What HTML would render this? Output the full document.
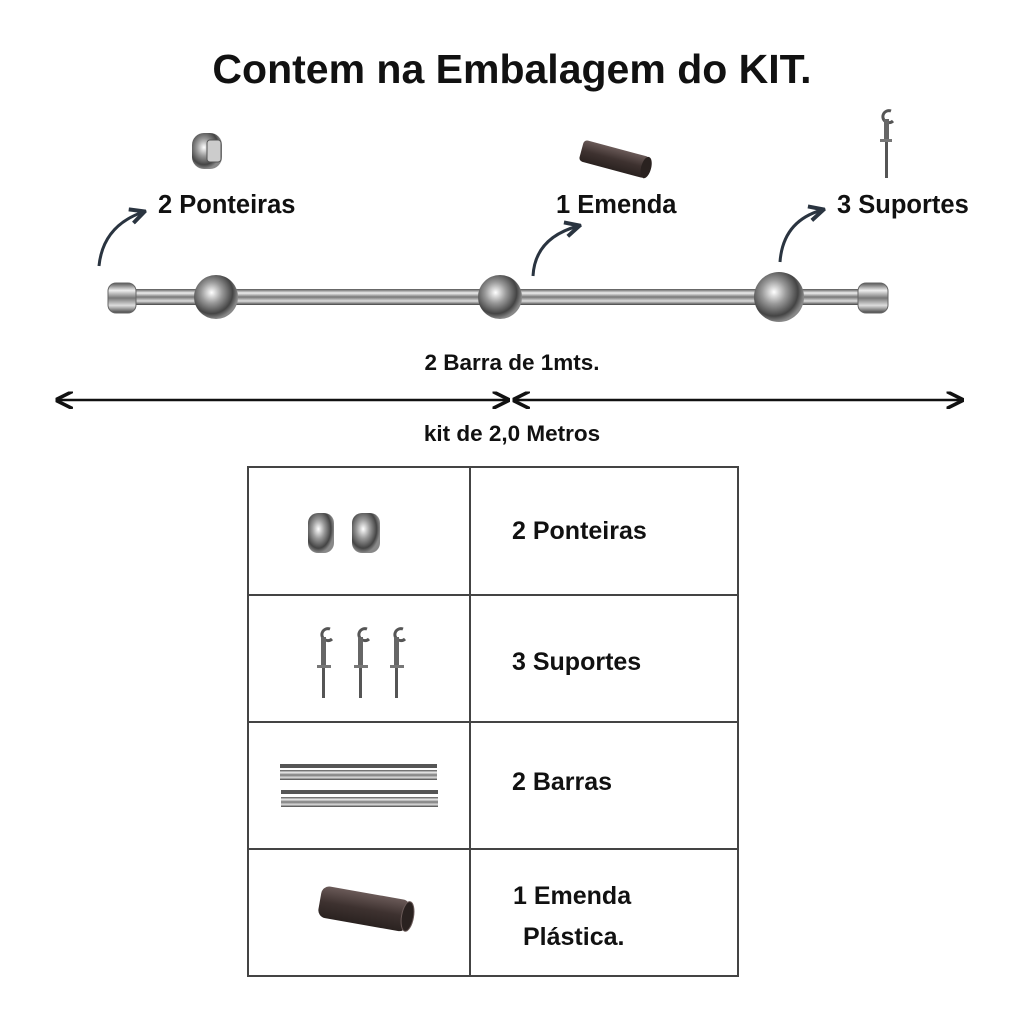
<!DOCTYPE html>
<html><head><meta charset="utf-8"><style>
html,body{margin:0;padding:0;background:#fff;width:1024px;height:1024px;overflow:hidden}
svg{display:block}
text{font-family:"Liberation Sans",Arial,sans-serif;font-weight:bold;fill:#111}
</style></head><body>
<svg width="1024" height="1024" viewBox="0 0 1024 1024">
<defs>
<linearGradient id="chr" x1="0" y1="0" x2="0" y2="1">
<stop offset="0" stop-color="#555"/><stop offset="0.25" stop-color="#eee"/><stop offset="0.5" stop-color="#777"/><stop offset="0.75" stop-color="#ddd"/><stop offset="1" stop-color="#444"/></linearGradient>
<radialGradient id="ball" cx="0.4" cy="0.4" r="0.6">
<stop offset="0" stop-color="#fff"/><stop offset="0.4" stop-color="#999"/><stop offset="0.8" stop-color="#444"/><stop offset="1" stop-color="#888"/></radialGradient>
<linearGradient id="plas" x1="0" y1="0" x2="0" y2="1"><stop offset="0" stop-color="#6a5a58"/><stop offset="0.5" stop-color="#3e3230"/><stop offset="1" stop-color="#2a2220"/></linearGradient>
<marker id="ah" viewBox="0 0 10 10" refX="9" refY="5" markerWidth="7" markerHeight="7" orient="auto-start-reverse"><path d="M0,0 L10,5 L0,10" fill="none" stroke="#111" stroke-width="2"/></marker>
<marker id="ah2" viewBox="0 0 10 10" refX="8" refY="5" markerWidth="6" markerHeight="6" orient="auto"><path d="M1,1 L9,5 L1,9" fill="none" stroke="#2a3440" stroke-width="2.2"/></marker>
</defs>

<text x="512" y="83" font-size="41" text-anchor="middle">Contem na Embalagem do KIT.</text>

<rect x="192" y="133" width="30" height="36" rx="12" fill="url(#ball)"/>
<rect x="207" y="140" width="14" height="22" rx="3" fill="#ccc" stroke="#555"/>
<g transform="rotate(15 614 160)"><rect x="580" y="148" width="68" height="22" rx="4" fill="url(#plas)"/><ellipse cx="647" cy="159" rx="5" ry="11" fill="#2a2220"/></g>
<g transform="translate(885,107)"><path d="M6,4 a6,6 0 1 0 2,10" fill="none" stroke="#555" stroke-width="3"/><rect x="-1" y="12" width="5" height="22" fill="#666"/><rect x="-5" y="32" width="12" height="3" fill="#777"/><rect x="0" y="35" width="3" height="36" fill="#555"/></g>

<text x="158" y="213" font-size="25.5">2 Ponteiras</text>
<text x="556" y="213" font-size="25.5">1 Emenda</text>
<text x="837" y="213" font-size="25.5">3 Suportes</text>

<path d="M99,266 Q103,226 143,212" fill="none" stroke="#2a3440" stroke-width="3" marker-end="url(#ah2)"/>
<path d="M533,276 Q535,238 578,226" fill="none" stroke="#2a3440" stroke-width="3" marker-end="url(#ah2)"/>
<path d="M780,262 Q783,221 822,210" fill="none" stroke="#2a3440" stroke-width="3" marker-end="url(#ah2)"/>

<rect x="120" y="289" width="755" height="16" fill="url(#chr)"/>
<rect x="108" y="283" width="28" height="30" rx="8" fill="url(#chr)" stroke="#666"/>
<rect x="858" y="283" width="30" height="30" rx="8" fill="url(#chr)" stroke="#666"/>
<circle cx="216" cy="297" r="22" fill="url(#ball)"/>
<circle cx="500" cy="297" r="22" fill="url(#ball)"/>
<circle cx="779" cy="297" r="25" fill="url(#ball)"/>

<text x="512" y="370" font-size="22.5" text-anchor="middle">2 Barra de 1mts.</text>
<line x1="57" y1="400" x2="508" y2="400" stroke="#111" stroke-width="2.5" marker-start="url(#ah)" marker-end="url(#ah)"/>
<line x1="514" y1="400" x2="962" y2="400" stroke="#111" stroke-width="2.5" marker-start="url(#ah)" marker-end="url(#ah)"/>
<text x="512" y="441" font-size="22.5" text-anchor="middle">kit de 2,0 Metros</text>

<g fill="none" stroke="#444" stroke-width="2">
<rect x="248" y="467" width="490" height="509"/>
<line x1="470" y1="467" x2="470" y2="976"/>
<line x1="248" y1="595" x2="738" y2="595"/>
<line x1="248" y1="722" x2="738" y2="722"/>
<line x1="248" y1="849" x2="738" y2="849"/>
</g>
<text x="512" y="539" font-size="25">2 Ponteiras</text>
<text x="512" y="670" font-size="25">3 Suportes</text>
<text x="512" y="790" font-size="25">2 Barras</text>
<text x="513" y="904" font-size="25">1 Emenda</text>
<text x="523" y="945" font-size="25">Plástica.</text>

<rect x="308" y="513" width="26" height="40" rx="10" fill="url(#ball)"/>
<rect x="352" y="513" width="28" height="40" rx="10" fill="url(#ball)"/>
<g transform="translate(320,625)"><path d="M10,4 a6,6 0 1 0 2,10" fill="none" stroke="#555" stroke-width="3"/><rect x="1" y="12" width="5" height="28" fill="#666"/><rect x="-3" y="40" width="14" height="3" fill="#777"/><rect x="2" y="43" width="3" height="30" fill="#555"/></g>
<g transform="translate(357,625)"><path d="M10,4 a6,6 0 1 0 2,10" fill="none" stroke="#555" stroke-width="3"/><rect x="1" y="12" width="5" height="28" fill="#666"/><rect x="-3" y="40" width="14" height="3" fill="#777"/><rect x="2" y="43" width="3" height="30" fill="#555"/></g>
<g transform="translate(393,625)"><path d="M10,4 a6,6 0 1 0 2,10" fill="none" stroke="#555" stroke-width="3"/><rect x="1" y="12" width="5" height="28" fill="#666"/><rect x="-3" y="40" width="14" height="3" fill="#777"/><rect x="2" y="43" width="3" height="30" fill="#555"/></g>
<rect x="280" y="764" width="157" height="4" fill="#555"/>
<rect x="280" y="770" width="157" height="10" fill="url(#chr)"/>
<rect x="281" y="790" width="157" height="4" fill="#555"/>
<rect x="281" y="797" width="157" height="10" fill="url(#chr)"/>
<g transform="rotate(10 365 910)"><rect x="319" y="893" width="90" height="32" rx="8" fill="url(#plas)"/><ellipse cx="408" cy="909" rx="6" ry="15" fill="#2a2220" stroke="#6a5a58"/></g>
</svg>
</body></html>
